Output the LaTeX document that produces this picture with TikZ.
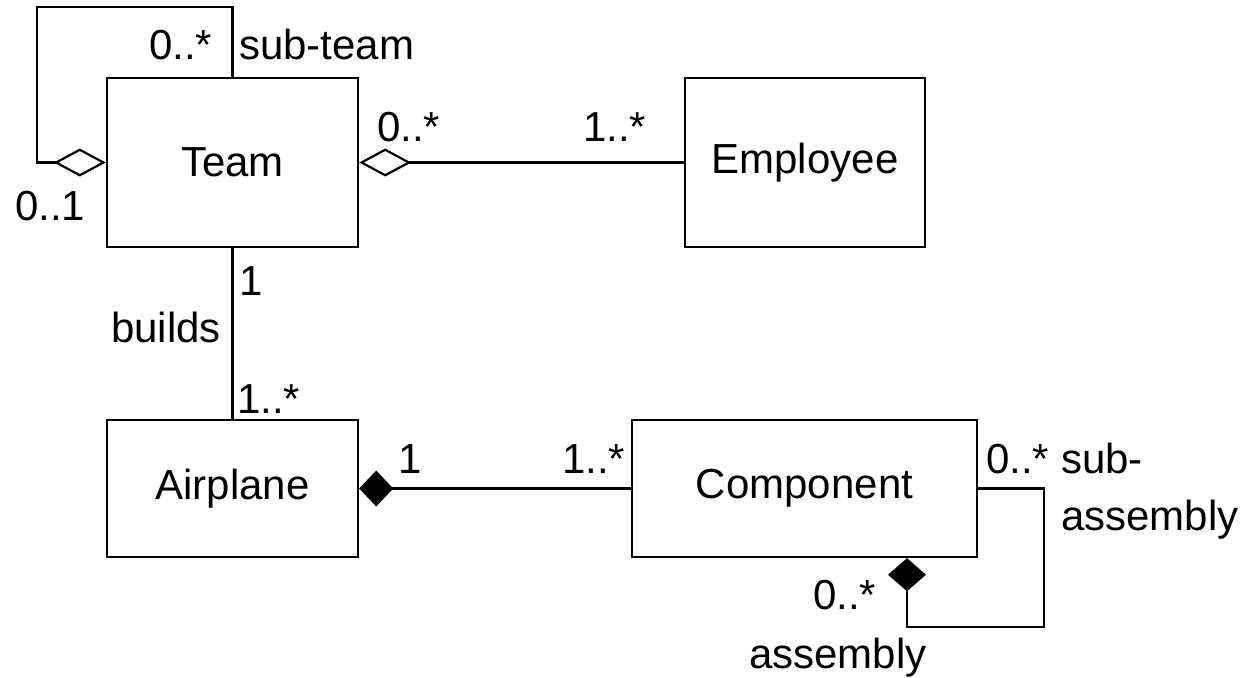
\documentclass[tikz,border=0pt]{standalone}
\usepackage{fontspec}
\setmainfont{Liberation Sans}
\usetikzlibrary{arrows.meta}
\begin{document}
\begin{tikzpicture}[x=0.5pt,y=-0.5pt,
  line width=1.2pt, line join=miter,
  cls/.style={draw, rectangle, inner sep=0pt, font=\fontsize{21}{25}\selectfont},
  lbl/.style={anchor=base west, inner sep=0pt, font=\fontsize{21}{25}\selectfont},
  odia/.style={-{Diamond[open,length=26pt,width=14pt,line width=1.1pt]}},
  fdia/.style={-{Diamond[length=17pt,width=18pt]}},
  fdiab/.style={-{Diamond[length=16.5pt,width=19pt]}}]
\useasboundingbox (0,0) rectangle (1249,677);
% classes
\node[cls, minimum width=125.5pt, minimum height=84.5pt] (team) at (232.5,162.5) {Team};
\node[cls, minimum width=120pt, minimum height=84.5pt] (emp) at (805,162.5) {Employee};
\node[cls, minimum width=125.5pt, minimum height=68.5pt] (air) at (232.5,488.5) {Airplane};
\node[cls, minimum width=172.5pt, minimum height=68.5pt] (comp) at (804.5,488.5) {Component};
% helper corners
\coordinate (tl) at (37,7);
\coordinate (cr) at (1044,627);
\coordinate (cb) at (907,627);
% connectors
\draw[odia] (team.north) -- (team.north |- tl) -- (tl) -- (tl |- team.west) -- (team.west);
\draw[odia] (emp.west) -- (team.east);
\draw (team.south) -- (air.north);
\draw[fdia] (comp.west) -- (air.east);
\draw[fdiab] (comp.east) -| (cr) -- (cb) -- (cb |- comp.south);
% labels
\node[lbl] (l1) at (148,59) {0..*};
\node[lbl] (l2) at (238,59) {sub-team};
\node[lbl] (l3) at (14,220) {0..1};
\node[lbl] (l4) at (376,141) {0..*};
\node[lbl] (l5) at (582,141) {1..*};
\node[lbl] (l6) at (238,295) {1};
\node[lbl] (l7) at (110,342) {builds};
\node[lbl] (l8) at (236,413) {1..*};
\node[lbl] (l9) at (397,473) {1};
\node[lbl] (l10) at (561,473) {1..*};
\node[lbl] (l11) at (985,473) {0..*};
\node[lbl] (l12) at (1060,473) {sub-};
\node[lbl] (l13) at (1060,530) {assembly};
\node[lbl] (l14) at (812,609) {0..*};
\node[lbl] (l15) at (748,668) {assembly};
\end{tikzpicture}
\end{document}
